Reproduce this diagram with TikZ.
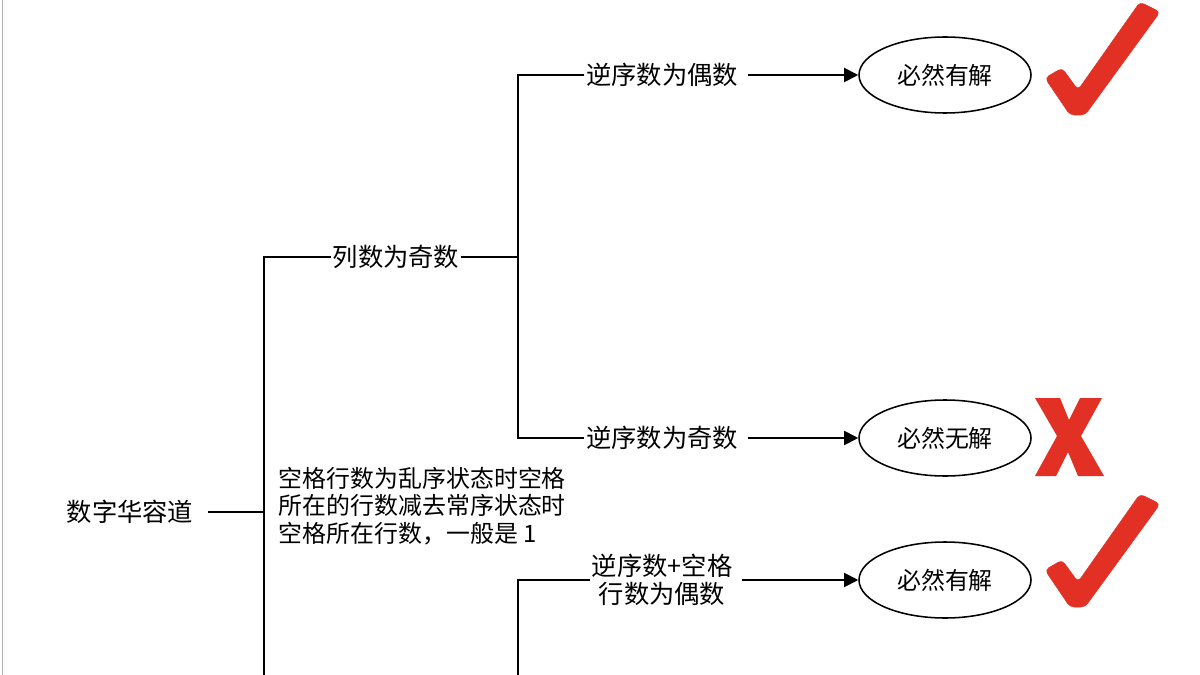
\documentclass[tikz,border=0pt]{standalone}
\usepackage{fontspec}
\newfontfamily\cjk{Noto Sans CJK SC}
\usetikzlibrary{positioning, shapes.geometric, arrows.meta}
\definecolor{okred}{RGB}{226,48,36}
\begin{document}
\begin{tikzpicture}[x=0.025cm, y=-0.025cm, font=\cjk\fontsize{18}{21}\selectfont]
	\tikzset{lbl/.style={inner sep=1pt, fill=white}}
	\tikzset{res/.style={ellipse, draw=black, line width=1.1pt, minimum width=172*0.025cm, minimum height=76*0.025cm, inner sep=0pt}}
	\tikzset{arr/.style={-{Triangle[length=10pt, width=10pt]}, line width=1.3pt}}
	\tikzset{tick/.style={fill=okred, draw=okred, line join=round, rounded corners=3pt}}
	\useasboundingbox (0,0) rectangle (1200,675);
	\draw[gray!60] (2,0) -- (2,675);
		\node (root) at (130,512) {数字华容道};
		\node[lbl] (odd) at (396,257) {列数为奇数};
		\node[lbl] (ev) at (662,75) {逆序数为偶数};
		\node[lbl] (od) at (662,438) {逆序数为奇数};
		\node[lbl, align=center, font=\cjk\fontsize{18}{20}\selectfont] (sum) at (662,580) {逆序数+空格\\行数为偶数};
		\node[res, font=\cjk\fontsize{17}{20}\selectfont] (yes1) at (945,75) {必然有解};
		\node[res, font=\cjk\fontsize{17}{20}\selectfont] (no1) at (945,438) {必然无解};
		\node[res, font=\cjk\fontsize{17}{20}\selectfont] (yes2) at (945,580) {必然有解};
		\node[align=left, anchor=west, font=\cjk\fontsize{17}{19.5}\selectfont] (note) at (274,506) {空格行数为乱序状态时空格\\所在的行数减去常序状态时\\空格所在行数，一般是 1};
		\coordinate (spine) at (264,675);
		\coordinate (fork) at (518,675);
		% tree lines
		\begin{scope}[line width=1.3pt]
		\draw (root.east) ++(10,0) -- (264,512);
		\draw (264,675) |- (odd.west);
		\draw (odd.east) -- (518,257);
		\draw (ev.west) -| (518,257) |- (od.west);
		\draw (fork) |- (sum.west);
		\end{scope}
		\draw[arr] (ev.east) ++(8,0) -- (yes1);
		\draw[arr] (od.east) ++(8,0) -- (no1);
		\draw[arr] (sum.east) ++(8,0) -- (yes2);
		% marks
		\foreach \y in {0,492} {
			\fill[tick, yshift=-\y*0.025cm] (1045,78) -- (1062,68) -- (1078,90) -- (1140,2) -- (1160,12) -- (1085,115) -- (1070,115) -- cycle;
		}
		\fill[okred] (1035,398) -- (1060,398) -- (1069,420) -- (1080,398) -- (1102,398) -- (1081,436) -- (1104,476) -- (1078,476) -- (1068,452) -- (1056,476) -- (1035,476) -- (1057,436) -- cycle;
	\end{tikzpicture}
\end{document}
